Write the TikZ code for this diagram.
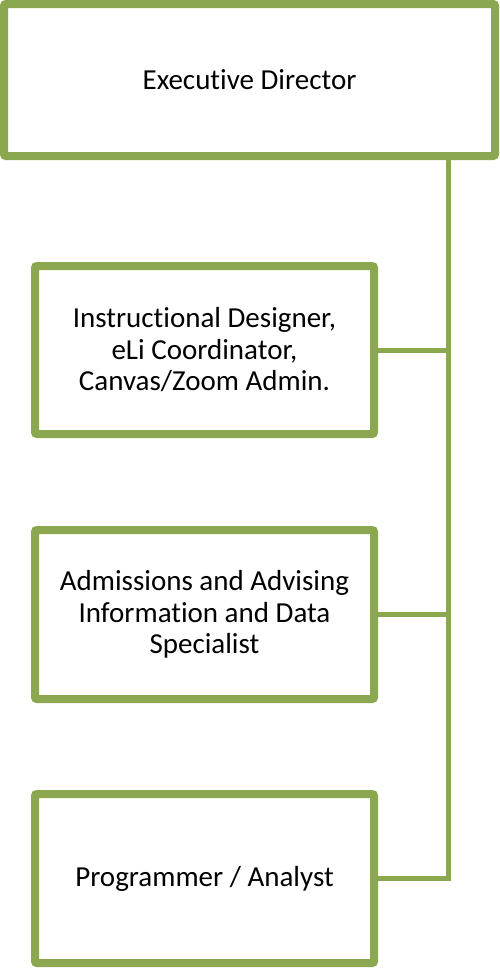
\documentclass[tikz,border=0pt]{standalone}
\usepackage{fontspec}
\setmainfont{Carlito}[Ligatures=NoCommon]
\usetikzlibrary{shadows}
\definecolor{olivegreen}{RGB}{139,168,80}

\begin{document}
\begin{tikzpicture}[x=1pt,y=1pt]
            \tikzstyle{role}=[draw=olivegreen,line width=8pt,fill=white,rounded corners=2pt,align=center,inner sep=0pt,minimum width=339pt,minimum height=168pt,font=\fontsize{29}{31.5}\selectfont,drop shadow={opacity=0.2,shadow xshift=1pt,shadow yshift=-2pt}]
            \tikzstyle{link}=[draw=olivegreen,line width=5pt]
    \useasboundingbox (0,0) rectangle (499,-969);
    \node[role,minimum width=491pt,minimum height=152pt] (exec) at (249.5,-80) {Executive Director};
    \node[role] (idd) at (204.5,-350) {Instructional Designer,\\eLi Coordinator,\\Canvas/Zoom Admin.};
    \node[role,minimum height=169pt] (aaid) at (204.5,-614.5) {Admissions and Advising\\Information and Data\\Specialist};
    \node[role,minimum height=169pt] (prog) at (204.5,-878.5) {Programmer / Analyst};
    \coordinate (trunk) at (448,0);
    \draw[link] (exec.south -| trunk) |- (prog.east);
    \draw[link] (idd.east) -- (idd.east -| trunk);
    \draw[link] (aaid.east) -- (aaid.east -| trunk);
\end{tikzpicture}
\end{document}
